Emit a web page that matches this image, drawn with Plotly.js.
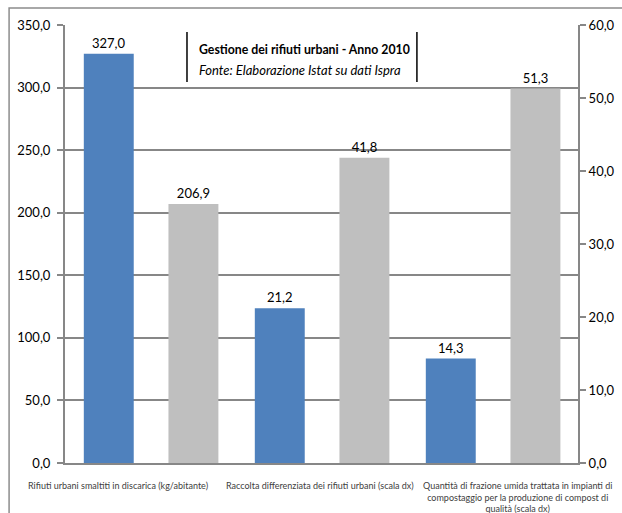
<!DOCTYPE html>
<html>
<head>
<meta charset="utf-8">
<script src="https://cdn.plot.ly/plotly-3.0.1.min.js"></script>
<style>html,body{margin:0;padding:0;background:#fff;}#chart{width:622px;height:513px;}</style>
</head>
<body>
<div id="chart"></div>
<script>
// ---- data ----
var categories = [
  "Rifiuti urbani smaltiti in discarica (kg/abitante)",
  "Raccolta differenziata dei rifiuti urbani (scala dx)",
  "Quantità di frazione umida trattata in impianti di compostaggio per la produzione di compost di qualità (scala dx)"
];
var categoryLabels = [
  "Rifiuti urbani smaltiti in discarica (kg/abitante)",
  "Raccolta differenziata dei rifiuti urbani (scala dx)",
  "Quantità di frazione umida trattata in impianti di<br>compostaggio per la produzione di compost di<br>qualità (scala dx)"
];
var seriesBlue = [327.0, 21.2, 14.3];
var seriesGray = [206.9, 41.8, 51.3];
var axisOf = ["y", "y2", "y2"];   // first category on left scale, others on right scale (scala dx)
var chartTitle = "Gestione dei rifiuti urbani - Anno 2010";
var chartSource = "Fonte: Elaborazione Istat su dati Ispra";

// ---- styles ----
var BLUE = "#4F81BD", GRAY = "#BFBFBF", LINE = "#878787";
var FONT = "Lato, Liberation Sans, Arial, sans-serif";

function pick(arr, ax) {
  var xs = [], ys = [];
  for (var i = 0; i < categories.length; i++) {
    if (axisOf[i] === ax) { xs.push(categories[i]); ys.push(arr[i]); }
  }
  return {x: xs, y: ys};
}

var traces = [];
[["y", "y"], ["y2", "y2"]].forEach(function (a) {
  var b = pick(seriesBlue, a[0]), g = pick(seriesGray, a[0]);
  traces.push({type: "bar", x: b.x, y: b.y, yaxis: a[1], marker: {color: BLUE},
    width: 0.292, offset: -0.39, texttemplate: "%{y:.1f}", textposition: "outside",
    textfont: {family: FONT, size: 13, color: "#000"}, cliponaxis: false, hoverinfo: "x+y", showlegend: false});
  traces.push({type: "bar", x: g.x, y: g.y, yaxis: a[1], marker: {color: GRAY},
    width: 0.292, offset: 0.105, texttemplate: "%{y:.1f}", textposition: "outside",
    textfont: {family: FONT, size: 13, color: "#000"}, cliponaxis: false, hoverinfo: "x+y", showlegend: false});
});

var xShifts = [-33, -2, 25];
var annotations = categories.map(function (c, i) {
  return {xref: "x", yref: "paper", x: c, y: -0.035, yanchor: "top", xanchor: "center",
    xshift: xShifts[i], text: categoryLabels[i], showarrow: false, align: "center",
    font: {family: FONT, size: 9, color: "#404040"}};
});
annotations.push({xref: "paper", yref: "paper", x: 0.257, y: 0.943, xanchor: "left", yanchor: "middle",
  text: "<b>" + chartTitle + "</b>", showarrow: false, font: {family: FONT, size: 12.3, color: "#000"}});
annotations.push({xref: "paper", yref: "paper", x: 0.257, y: 0.897, xanchor: "left", yanchor: "middle",
  text: "<i>" + chartSource + "</i>", showarrow: false, font: {family: FONT, size: 13, color: "#000"}});

var layout = {
  width: 622, height: 513,
  margin: {l: 65, r: 44, t: 25, b: 50},
  paper_bgcolor: "#fff", plot_bgcolor: "#fff",
  separators: ",.",
  showlegend: false,
  bargap: 0.2,
  xaxis: {type: "category", categoryorder: "array", categoryarray: categories, range: [-0.5, 2.5],
    showticklabels: false, ticks: "", showgrid: false, showline: true, linecolor: LINE, linewidth: 2, zeroline: false, fixedrange: true},
  yaxis: {range: [0, 350], dtick: 50, tick0: 0, tickformat: ".1f", showgrid: true, gridcolor: LINE, gridwidth: 2,
    zeroline: false, showline: true, linecolor: LINE, linewidth: 2, ticks: "outside", ticklen: 6, tickwidth: 2, tickcolor: LINE,
    tickfont: {family: FONT, size: 13, color: "#000"}, ticklabelstandoff: 4, fixedrange: true},
  yaxis2: {range: [0, 60], dtick: 10, tick0: 0, tickformat: ".1f", overlaying: "y", side: "right", showgrid: false,
    zeroline: false, showline: true, linecolor: LINE, linewidth: 2, ticks: "outside", ticklen: 6, tickwidth: 2, tickcolor: LINE,
    tickfont: {family: FONT, size: 13, color: "#000"}, fixedrange: true},
  annotations: annotations,
  shapes: [
    {type: "rect", xref: "paper", yref: "paper", x0: -0.109, x1: 1.3, y0: -0.3, y1: 1.039,
      line: {color: "#8c8c8c", width: 1.5}, fillcolor: "rgba(0,0,0,0)", layer: "below"},
    {type: "line", xref: "paper", yref: "paper", x0: 0.2378, x1: 0.2378, y0: 0.870, y1: 0.984, line: {color: "#000", width: 1.5}},
    {type: "line", xref: "paper", yref: "paper", x0: 0.686, x1: 0.686, y0: 0.870, y1: 0.984, line: {color: "#000", width: 1.5}}
  ]
};

Plotly.newPlot("chart", traces, layout, {displayModeBar: false, staticPlot: true});
</script>
</body>
</html>
